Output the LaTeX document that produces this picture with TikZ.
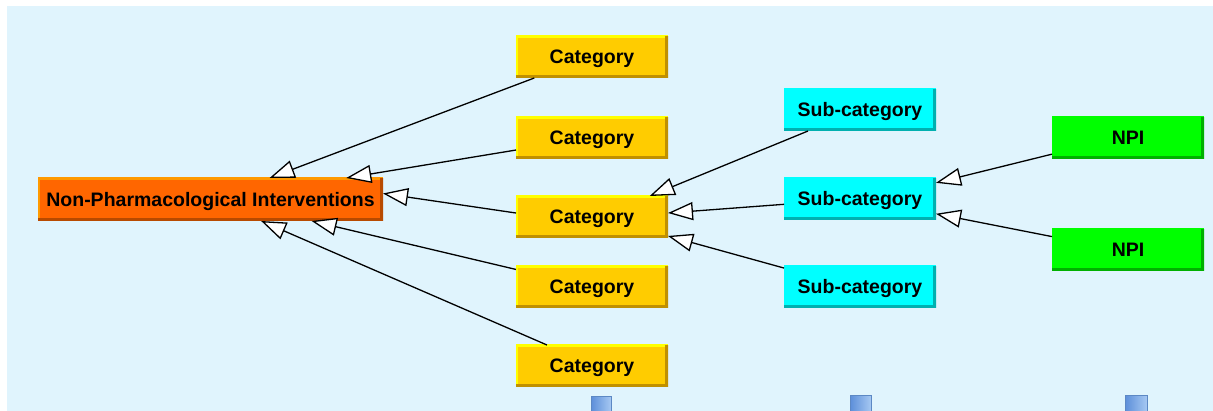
\documentclass[tikz,border=0pt]{standalone}
\usepackage{fontspec}
\setmainfont{Liberation Sans}
\usetikzlibrary{arrows.meta}
\definecolor{bgblue}{HTML}{E0F4FD}
\definecolor{orfill}{HTML}{FF6600}
\definecolor{orlight}{HTML}{FF9900}
\definecolor{ordark}{HTML}{B84A00}
\definecolor{catfill}{HTML}{FFCC00}
\definecolor{catlight}{HTML}{FFFF00}
\definecolor{catdark}{HTML}{C09000}
\definecolor{cyfill}{HTML}{00FFFF}
\definecolor{cydark}{HTML}{00B0B0}
\definecolor{grfill}{HTML}{00FF00}
\definecolor{grdark}{HTML}{00B000}
\definecolor{sqleft}{HTML}{5E90DA}
\definecolor{sqright}{HTML}{A6C8F2}
\definecolor{sqedge}{HTML}{5C88C4}
\tikzset{
  bx/.style n args={3}{fill=#1, inner sep=0pt, outer sep=0pt,
    minimum width=152pt, minimum height=42pt,
    text height=14pt, text depth=0pt,
    font=\fontsize{19.5}{23}\selectfont\bfseries,
    path picture={
      \draw[line width=4pt,#2] (path picture bounding box.south west) -- (path picture bounding box.north west) -- (path picture bounding box.north east);
      \draw[line width=6pt,#3] (path picture bounding box.south west) -- (path picture bounding box.south east) -- (path picture bounding box.north east);
    }},
  rootbox/.style={bx={orfill}{orlight}{ordark}, minimum width=345pt, minimum height=43pt},
  catbox/.style={bx={catfill}{catlight}{catdark}},
  subbox/.style={bx={cyfill}{cyfill}{cydark}},
  npibox/.style={bx={grfill}{grfill}{grdark}},
  arr/.style={line width=1.3pt, -{Triangle[length=25pt, width=18pt, fill=white, line join=miter]}},
  sq/.style={left color=sqleft, right color=sqright, draw=sqedge, line width=1pt}
}
\begin{document}
\begin{tikzpicture}[x=1pt,y=-1pt]
\useasboundingbox (0,0) rectangle (1213,411);
\clip (0,0) rectangle (1213,411);
\fill[bgblue] (7,6) rectangle (1213,411);

\node[rootbox] (root) at (210.5,199.5) {Non-Pharmacological Interventions};
\node[catbox] (c1) at (592,57) {Category};
\node[catbox] (c2) at (592,138) {Category};
\node[catbox] (c3) at (592,217) {Category};
\node[catbox] (c4) at (592,287) {Category};
\node[catbox] (c5) at (592,366) {Category};
\node[subbox] (s1) at (860,110) {Sub-category};
\node[subbox] (s2) at (860,199) {Sub-category};
\node[subbox] (s3) at (860,287) {Sub-category};
\node[npibox] (n1) at (1128,138) {NPI};
\node[npibox] (n2) at (1128,250) {NPI};

\draw[arr] (c1.200.9) -- (root.20.2);
\draw[arr] (c2.189.7) -- (root.9.0);
\draw[arr] (c3.177.0) -- (root.2.8);
\draw[arr] (c4.167.4) -- (root.-12.8);
\draw[arr] (c5.155.9) -- (root.-23.1);
\draw[arr] (s1.202.0) -- (c3.20.6);
\draw[arr] (s2.184.5) -- (c3.3.8);
\draw[arr] (s3.166.0) -- (c3.-14.6);
\draw[arr] (n1.192.6) -- (s2.12.6);
\draw[arr] (n2.170.3) -- (s2.-11.2);

\shadedraw[sq] (591.5,396.5) rectangle (611,418);
\shadedraw[sq] (850.5,395.5) rectangle (871,418);
\shadedraw[sq] (1125.5,395.5) rectangle (1147,418);
\end{tikzpicture}
\end{document}
